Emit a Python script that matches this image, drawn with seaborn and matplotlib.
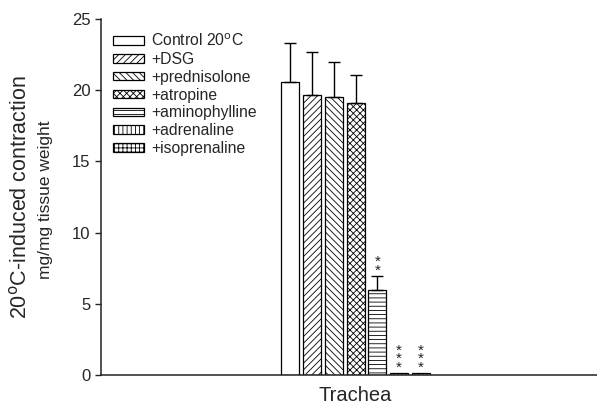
import matplotlib
matplotlib.use('Agg')
import matplotlib.pyplot as plt
import seaborn as sns
import pandas as pd

# Dados
tecido = ['Trachea'] * 7
tratamentos = ['Control 20$^{\\rm o}$C', '+DSG', '+prednisolone', '+atropine',
               '+aminophylline', '+adrenaline', '+isoprenaline']
valores = [20.6, 19.7, 19.5, 19.1, 6.0, 0.15, 0.15]
erros = [2.7, 3.0, 2.45, 2.0, 0.95, 0.0, 0.0]
signif = ['', '', '', '', '**', '***', '***']
hachuras = ['', '/////', '\\\\\\\\\\', 'xxxxx', '----', '||||', '++++']

df = pd.DataFrame({'tecido': tecido, 'tratamento': tratamentos, 'valor': valores})

sns.set_style('ticks')
plt.rcParams['font.family'] = ['Liberation Sans', 'DejaVu Sans']
plt.rcParams['hatch.linewidth'] = 0.6

fig = plt.figure(figsize=(5.97, 4.05), dpi=100)
ax = fig.add_axes([0.169, 0.074, 0.831, 0.879])

sns.barplot(data=df, x='tecido', y='valor', hue='tratamento', hue_order=tratamentos,
            palette=['white'] * 7, edgecolor='black', linewidth=0.9,
            errorbar=None, gap=0.17, legend=False, ax=ax)

barras = [c.patches[0] for c in ax.containers]

# hachuras, barras de erro (só para cima) e asteriscos
for bar, h, e, s in zip(barras, hachuras, erros, signif):
    bar.set_hatch(h)
    cx = bar.get_x() + bar.get_width() / 2
    top = bar.get_height()
    if e > 0:
        ax.errorbar(cx, top, yerr=[[0], [e]], fmt='none', ecolor='black',
                    elinewidth=1.0, capsize=4.3, capthick=1.0)
    if s:
        ax.text(cx, top + e - 0.1, '\n'.join(s), ha='center', va='bottom',
                fontsize=11, linespacing=0.5, color='#222222')

ax.legend(handles=barras, labels=tratamentos,
          loc='upper left', bbox_to_anchor=(0.024, 0.962), frameon=False,
          fontsize=11.3, handlelength=2.0, handleheight=0.45, handletextpad=0.45,
          labelspacing=0.18, borderaxespad=0, borderpad=0)

ax.set_xlim(-1.34, 1.27)
ax.set_ylim(0, 25)
ax.set_yticks([0, 5, 10, 15, 20, 25])
ax.tick_params(axis='y', labelsize=12, length=4, width=1)
ax.tick_params(axis='x', labelsize=14.5, length=0, pad=8)
ax.set_xlabel('')
ax.set_ylabel('')

fig.text(20.5 / 597, 1 - 197 / 405, '20$^{\\rm o}$C-induced contraction', rotation=90,
         ha='center', va='center', fontsize=15.5)
fig.text(46 / 597, 1 - 200 / 405, 'mg/mg tissue weight', rotation=90,
         ha='center', va='center', fontsize=12.5)

sns.despine(ax=ax)
for sp in ['left', 'bottom']:
    ax.spines[sp].set_linewidth(1.1)
    ax.spines[sp].set_color('#222222')

plt.savefig('out.png', dpi=100)
